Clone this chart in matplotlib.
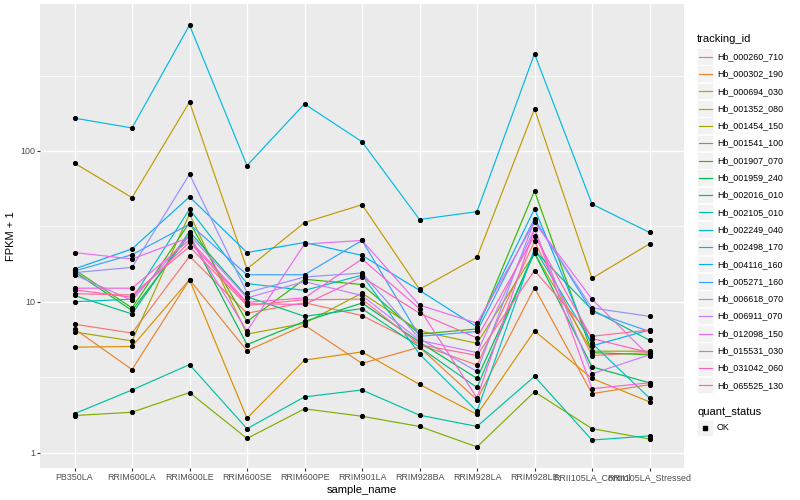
import numpy as np
import matplotlib
matplotlib.use("Agg")
import matplotlib.pyplot as plt
from matplotlib.lines import Line2D
from matplotlib.patches import Rectangle

plt.rcParams["font.family"] = ["Liberation Sans", "DejaVu Sans"]

# categories on the x axis
sample_names = ["PB350LA", "RRIM600LA", "RRIM600LE", "RRIM600SE", "RRIM600PE",
                "RRIM901LA", "RRIM928BA", "RRIM928LA", "RRIM928LE",
                "RRII105LA_Control", "RRII105LA_Stressed"]

tracking_ids = ["Hb_000260_710", "Hb_000302_190", "Hb_000694_030", "Hb_001352_080",
                "Hb_001454_150", "Hb_001541_100", "Hb_001907_070", "Hb_001959_240",
                "Hb_002016_010", "Hb_002105_010", "Hb_002249_040", "Hb_002498_170",
                "Hb_004116_160", "Hb_005271_160", "Hb_006618_070", "Hb_006911_070",
                "Hb_012098_150", "Hb_015531_030", "Hb_031042_060", "Hb_065525_130"]

# FPKM + 1, one row per tracking_id, one column per sample_name
hb_000260_710 = [7.1, 6.2, 20.0, 8.4, 9.85, 8.1, 5.2, 3.8, 25.1, 4.4, 4.6]
hb_000302_190 = [6.6, 3.55, 14.0, 4.73, 7.0, 3.9, 5.0, 2.24, 12.4, 2.46, 2.82]
hb_000694_030 = [5.0, 5.05, 14.0, 1.69, 4.1, 4.65, 2.83, 1.79, 6.4, 3.1, 2.17]
hb_001352_080 = [83, 49, 211, 16.5, 33.5, 44, 12.1, 19.7, 190, 14.3, 24.2]
hb_001454_150 = [6.3, 5.5, 38.1, 6.1, 7.2, 11.4, 6.4, 5.3, 21.0, 4.7, 4.7]
hb_001541_100 = [1.76, 1.85, 2.5, 1.24, 1.95, 1.74, 1.49, 1.09, 2.53, 1.44, 1.23]
hb_001907_070 = [16.3, 9.1, 33.5, 7.4, 14.1, 13.0, 6.1, 6.6, 54.3, 4.6, 4.45]
hb_001959_240 = [15.8, 8.75, 27.8, 5.2, 7.4, 9.8, 5.4, 3.1, 21.0, 3.7, 2.9]
hb_002016_010 = [11.0, 8.3, 29.2, 10.8, 8.0, 9.0, 5.0, 2.7, 21.9, 8.85, 5.55]
hb_002105_010 = [1.81, 2.6, 3.83, 1.44, 2.34, 2.6, 1.77, 1.49, 3.2, 1.21, 1.29]
hb_002249_040 = [10.0, 10.4, 41.1, 13.2, 11.9, 15.0, 4.5, 1.88, 22.5, 5.3, 2.3]
hb_002498_170 = [165, 142, 683, 80, 205, 115, 35.1, 39.6, 441, 44.4, 28.8]
hb_004116_160 = [16.5, 22.4, 49.6, 21.2, 24.7, 20.3, 11.9, 6.8, 41.3, 5.1, 6.5]
hb_005271_160 = [16.0, 20.5, 32.7, 15.1, 15.1, 25.5, 5.9, 6.35, 35.5, 8.6, 6.35]
hb_006618_070 = [15.6, 16.9, 70, 11.5, 14.6, 15.5, 5.7, 3.45, 34.4, 9.1, 8.0]
hb_006911_070 = [15.1, 10.2, 27.8, 10.6, 13.6, 11.0, 5.55, 4.6, 30.4, 3.33, 4.45]
hb_012098_150 = [21.2, 19.2, 26.7, 6.4, 24.1, 25.5, 9.5, 7.2, 33.7, 10.4, 4.35]
hb_015531_030 = [12.3, 12.3, 25.7, 9.9, 10.6, 19.2, 9.0, 2.3, 30.4, 2.65, 2.9]
hb_031042_060 = [12.0, 10.7, 24.8, 9.7, 9.6, 14.6, 8.4, 5.75, 27.4, 5.7, 4.6]
hb_065525_130 = [11.3, 11.1, 23.2, 9.45, 10.3, 10.4, 5.2, 4.4, 16.1, 5.9, 6.5]

fpkm = [hb_000260_710, hb_000302_190, hb_000694_030, hb_001352_080, hb_001454_150,
        hb_001541_100, hb_001907_070, hb_001959_240, hb_002016_010, hb_002105_010,
        hb_002249_040, hb_002498_170, hb_004116_160, hb_005271_160, hb_006618_070,
        hb_006911_070, hb_012098_150, hb_015531_030, hb_031042_060, hb_065525_130]

# ggplot hue palette for 20 levels
colors = ["#F8766D", "#EA8331", "#D89000", "#C09B00", "#A3A500", "#7CAE00", "#39B600",
          "#00BB4E", "#00BF7D", "#00C1A3", "#00BFC4", "#00BAE0", "#00B0F6", "#35A2FF",
          "#9590FF", "#C77CFF", "#E76BF3", "#FA62DB", "#FF62BC", "#FF6C91"]

W, H = 800, 500
fig = plt.figure(figsize=(8, 5), dpi=100)
ax = fig.add_axes([40 / W, 1 - 468 / H, (684 - 40) / W, (468 - 4) / H])
ax.set_facecolor("#EBEBEB")
for s in ax.spines.values():
    s.set_visible(False)

x = np.arange(len(sample_names))
for vals, col in zip(fpkm, colors):
    ax.plot(x, vals, color=col, lw=0.85, zorder=3, solid_capstyle="butt")
for vals in fpkm:
    ax.plot(x, vals, ls="none", marker="o", ms=2.7, mfc="black", mec="black", zorder=4)

ax.set_yscale("log")
allv = np.log10(np.concatenate([np.asarray(v, float) for v in fpkm]))
lo, hi = allv.min(), allv.max()
pad = 0.05 * (hi - lo)
ax.set_ylim(10 ** (lo - pad), 10 ** (hi + pad))
ax.set_xlim(-0.6, len(sample_names) - 0.4)

ax.set_yticks([1, 10, 100])
ax.set_yticklabels(["1", "10", "100"])
ax.set_yticks([10 ** 0.5, 10 ** 1.5, 10 ** 2.5], minor=True)
ax.set_xticks(x)
ax.set_xticklabels(sample_names)
ax.tick_params(axis="both", which="major", length=2.2, width=0.8, color="#333333",
               labelsize=6.4, labelcolor="#4D4D4D", pad=1.5)
ax.tick_params(axis="both", which="minor", length=0)
ax.grid(True, which="major", color="white", lw=1.0, zorder=0)
ax.grid(True, which="minor", axis="y", color="white", lw=0.5, zorder=0)
ax.set_axisbelow(True)

ax.set_xlabel("sample_name", fontsize=8, labelpad=2)
ax.set_ylabel("FPKM + 1", fontsize=8, labelpad=3)

# legend drawn by hand in ggplot style
def fx(px):
    return px / W

def fy(py):
    return 1 - py / H

fig.text(fx(697), fy(39), "tracking_id", fontsize=8, va="center", ha="left")
step = 17.3
for i, (name, col) in enumerate(zip(tracking_ids, colors)):
    cy = 56.7 + i * step
    fig.add_artist(Rectangle((fx(697), fy(cy + 8)), 16 / W, 16.5 / H,
                             transform=fig.transFigure, facecolor="#F2F2F2",
                             edgecolor="white", lw=0.5))
    fig.add_artist(Line2D([fx(698.5), fx(711.5)], [fy(cy), fy(cy)],
                          transform=fig.transFigure, color=col, lw=0.85))
    fig.text(fx(717), fy(cy), name, fontsize=6.4, va="center", ha="left")

fig.text(fx(697), fy(412), "quant_status", fontsize=8, va="center", ha="left")
fig.add_artist(Rectangle((fx(697), fy(436)), 16 / W, 16.5 / H,
                         transform=fig.transFigure, facecolor="#F2F2F2",
                         edgecolor="white", lw=0.5))
fig.add_artist(Line2D([fx(705)], [fy(428)], transform=fig.transFigure, ls="none",
                      marker="s", ms=2.4, color="black"))
fig.text(fx(717), fy(428), "OK", fontsize=6.4, va="center", ha="left")

fig.savefig("out.png", dpi=100)
